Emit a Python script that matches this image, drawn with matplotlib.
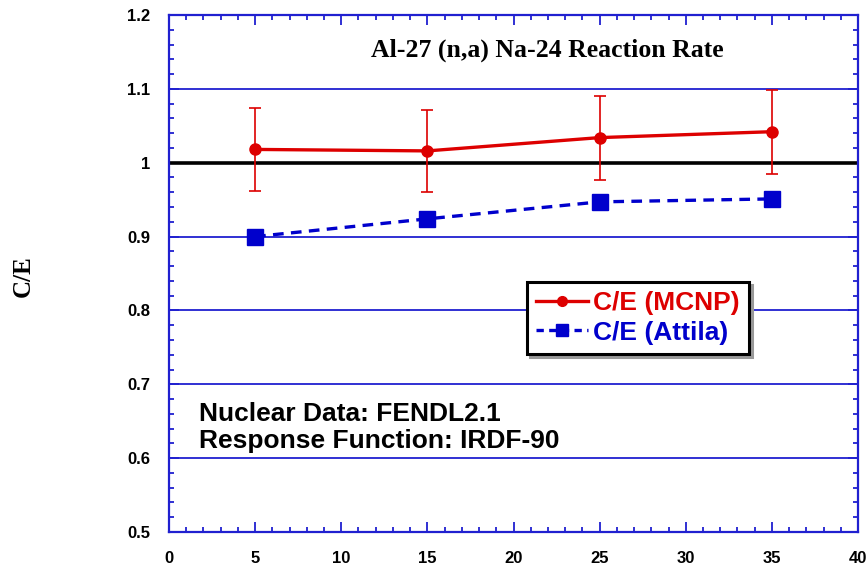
import matplotlib
matplotlib.use("Agg")
import matplotlib.pyplot as plt
from matplotlib.ticker import MultipleLocator
from matplotlib.lines import Line2D

x_vals = [5, 15, 25, 35]
mcnp_ce = [1.018, 1.016, 1.034, 1.042]
mcnp_err = [0.056, 0.056, 0.057, 0.057]
attila_ce = [0.900, 0.924, 0.947, 0.951]

title = "Al-27 (n,a) Na-24 Reaction Rate"
note_lines = ["Nuclear Data: FENDL2.1", "Response Function: IRDF-90"]
legend_labels = ["C/E (MCNP)", "C/E (Attila)"]

RED = "#dd0000"
BLUE = "#0000cc"
AXBLUE = "#2020d0"
SANS = "Liberation Sans"
SERIF = "Liberation Serif"

W, H = 867, 566
fig = plt.figure(figsize=(W/100, H/100), dpi=100)
L, R, T, B = 169, 858, 15, 532
ax = fig.add_axes([L/W, 1-B/H, (R-L)/W, (B-T)/H])

def ax_xy(px, py):
    return (px-L)/(R-L), 1-(py-T)/(B-T)

ax.set_xlim(0, 40)
ax.set_ylim(0.5, 1.2)

for yv in [0.6, 0.7, 0.8, 0.9, 1.1]:
    ax.axhline(yv, color=AXBLUE, lw=1.3, zorder=1)
ax.axhline(1.0, color="black", lw=2.6, zorder=2)

ax.errorbar(x_vals, mcnp_ce, yerr=mcnp_err, color=RED, lw=2.4, marker="o",
            ms=8, ecolor=RED, elinewidth=1.2, capsize=4, capthick=1.2, zorder=4)
ax.plot(x_vals, attila_ce, color=BLUE, lw=2.4, ls=(0, (3.2, 2.2)), marker="s",
        ms=11, zorder=5)

ax.xaxis.set_major_locator(MultipleLocator(5))
ax.xaxis.set_minor_locator(MultipleLocator(1))
ax.yaxis.set_minor_locator(MultipleLocator(0.02))
ax.tick_params(which="both", direction="in", top=True, right=True, color=AXBLUE, width=1.3)
ax.tick_params(which="major", length=7.2, labelsize=12, pad=13.5)
ax.tick_params(which="minor", length=3.8)
ax.set_yticks([0.5, 0.6, 0.7, 0.8, 0.9, 1.0, 1.1, 1.2])
ax.set_yticklabels(["0.5", "0.6", "0.7", "0.8", "0.9", "1", "1.1", "1.2"])
for lab in ax.get_xticklabels() + ax.get_yticklabels():
    lab.set_fontfamily(SANS)
    lab.set_fontweight("bold")
for s in ax.spines.values():
    s.set_color(AXBLUE)
    s.set_linewidth(1.6)

ax.text(*ax_xy(547.5, 50), title, transform=ax.transAxes, ha="center", va="center",
        fontsize=18.5, fontweight="bold", family=SERIF)

ax.text(*ax_xy(199, 421), note_lines[0], transform=ax.transAxes,
        ha="left", va="baseline", fontsize=19, fontweight="bold", family=SANS)
ax.text(*ax_xy(199, 448), note_lines[1], transform=ax.transAxes,
        ha="left", va="baseline", fontsize=19, fontweight="bold", family=SANS)

fig.text(23/W, 1-276/H, "C/E", rotation=90, ha="center", va="center",
         fontsize=18, fontweight="bold", family=SERIF)

h1 = Line2D([], [], color=RED, lw=2.4, marker="o", ms=7)
h2 = Line2D([], [], color=BLUE, lw=2.4, ls=(0, (2.2, 1.6)), marker="s", ms=9)
leg = ax.legend([h1, h2], legend_labels, loc="upper left",
                bbox_to_anchor=ax_xy(527, 282),
                frameon=True, fancybox=False, shadow={"color": "0.6", "alpha": 1},
                framealpha=1, edgecolor="black", handlelength=1.95, handletextpad=0.2,
                borderpad=0.35, labelspacing=0.2, borderaxespad=0,
                prop={"family": SANS, "weight": "bold", "size": 19})
leg.get_frame().set_linewidth(2.2)
for txt, c in zip(leg.get_texts(), [RED, BLUE]):
    txt.set_color(c)
leg.set_zorder(10)

fig.savefig("out.png", dpi=100)
